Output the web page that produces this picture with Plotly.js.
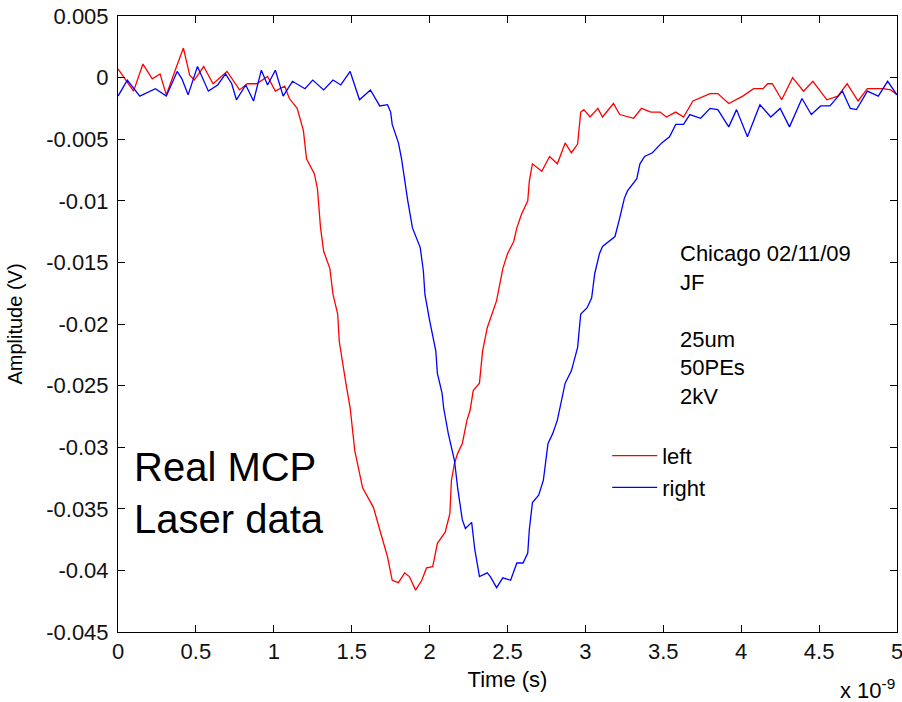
<!DOCTYPE html>
<html>
<head>
<meta charset="utf-8">
<script src="https://cdn.plot.ly/plotly-3.0.1.min.js"></script>
<style>html,body{margin:0;padding:0;background:#fff;}#chart{width:902px;height:702px;}</style>
</head>
<body>
<div id="chart"></div>
<script>
// Time in units of 1e-9 s
var leftTime = [0.00,0.10,0.16,0.22,0.27,0.31,0.37,0.42,0.46,0.49,0.55,0.61,0.70,0.78,0.83,0.89,0.96,1.01,1.07,1.10,1.15,1.19,1.21,1.26,1.28,1.30,1.32,1.36,1.38,1.41,1.42,1.44,1.46,1.49,1.52,1.57,1.64,1.68,1.73,1.76,1.80,1.84,1.87,1.91,1.95,1.98,2.02,2.05,2.10,2.13,2.14,2.16,2.18,2.21,2.24,2.26,2.28,2.32,2.34,2.37,2.40,2.43,2.47,2.50,2.54,2.56,2.59,2.63,2.64,2.66,2.72,2.77,2.82,2.87,2.91,2.95,2.97,2.99,3.03,3.08,3.11,3.18,3.22,3.31,3.36,3.42,3.48,3.52,3.58,3.63,3.69,3.80,3.85,3.92,4.01,4.08,4.14,4.17,4.20,4.26,4.33,4.40,4.46,4.55,4.62,4.68,4.75,4.81,4.86,4.91,4.96,5.00];
var leftAmp = [0.0007,-0.0011,0.0011,-0.0001,0.0003,-0.0014,0.0007,0.0024,0.0002,-0.0002,0.0009,-0.0005,0.0005,-0.0010,-0.0005,-0.0005,0.0001,-0.0011,-0.0007,-0.0017,-0.0025,-0.0043,-0.0066,-0.0078,-0.0090,-0.0122,-0.0141,-0.0155,-0.0176,-0.0192,-0.0214,-0.0232,-0.0246,-0.0268,-0.0303,-0.0333,-0.0349,-0.0367,-0.0389,-0.0408,-0.0410,-0.0402,-0.0405,-0.0416,-0.0408,-0.0398,-0.0397,-0.0378,-0.0369,-0.0354,-0.0327,-0.0313,-0.0305,-0.0297,-0.0278,-0.0270,-0.0254,-0.0248,-0.0222,-0.0203,-0.0192,-0.0181,-0.0155,-0.0143,-0.0133,-0.0122,-0.0111,-0.0100,-0.0084,-0.0070,-0.0076,-0.0064,-0.0070,-0.0053,-0.0061,-0.0054,-0.0028,-0.0026,-0.0032,-0.0025,-0.0032,-0.0021,-0.0030,-0.0033,-0.0025,-0.0028,-0.0028,-0.0032,-0.0028,-0.0032,-0.0019,-0.0013,-0.0013,-0.0021,-0.0015,-0.0009,-0.0009,-0.0005,-0.0005,-0.0018,0.0000,-0.0011,-0.0003,-0.0018,-0.0015,-0.0005,-0.0019,-0.0009,-0.0009,-0.0009,-0.0010,-0.0014];

var rightTime = [0.00,0.06,0.14,0.24,0.31,0.38,0.41,0.45,0.51,0.58,0.64,0.69,0.73,0.76,0.82,0.87,0.92,0.96,1.01,1.06,1.12,1.20,1.25,1.32,1.38,1.43,1.49,1.55,1.62,1.68,1.73,1.75,1.76,1.80,1.82,1.84,1.86,1.89,1.94,1.96,1.97,2.00,2.04,2.05,2.08,2.09,2.12,2.16,2.18,2.21,2.23,2.27,2.29,2.32,2.37,2.39,2.43,2.47,2.52,2.56,2.60,2.63,2.64,2.66,2.70,2.73,2.76,2.79,2.82,2.87,2.91,2.95,2.97,3.01,3.04,3.06,3.09,3.11,3.19,3.22,3.25,3.27,3.33,3.35,3.38,3.43,3.49,3.54,3.58,3.63,3.67,3.74,3.80,3.85,3.92,3.97,4.04,4.12,4.19,4.25,4.31,4.39,4.45,4.51,4.57,4.65,4.70,4.74,4.81,4.88,4.94,5.00];
var rightAmp = [-0.0015,-0.0002,-0.0015,-0.0009,-0.0015,0.0005,-0.0001,-0.0014,0.0009,-0.0011,-0.0006,0.0003,-0.0005,-0.0018,-0.0006,-0.0019,0.0006,-0.0006,0.0006,-0.0015,-0.0003,-0.0009,-0.0002,-0.0010,-0.0002,-0.0006,0.0005,-0.0018,-0.0010,-0.0023,-0.0022,-0.0028,-0.0038,-0.0053,-0.0066,-0.0084,-0.0100,-0.0122,-0.0138,-0.0157,-0.0176,-0.0197,-0.0222,-0.0240,-0.0256,-0.0268,-0.0289,-0.0311,-0.0333,-0.0359,-0.0366,-0.0361,-0.0383,-0.0405,-0.0402,-0.0405,-0.0414,-0.0406,-0.0408,-0.0394,-0.0394,-0.0386,-0.0367,-0.0345,-0.0339,-0.0327,-0.0297,-0.0289,-0.0278,-0.0248,-0.0238,-0.0219,-0.0192,-0.0187,-0.0179,-0.0159,-0.0143,-0.0137,-0.0129,-0.0114,-0.0098,-0.0092,-0.0082,-0.0070,-0.0064,-0.0061,-0.0053,-0.0048,-0.0038,-0.0038,-0.0030,-0.0033,-0.0025,-0.0026,-0.0040,-0.0026,-0.0048,-0.0022,-0.0032,-0.0025,-0.0040,-0.0017,-0.0030,-0.0023,-0.0023,-0.0011,-0.0025,-0.0026,-0.0011,-0.0015,-0.0003,-0.0014];

var xTickVals = [0,0.5,1,1.5,2,2.5,3,3.5,4,4.5,5];
var xTickText = ["0","0.5","1","1.5","2","2.5","3","3.5","4","4.5","5"];
var yTickVals = [0.005,0,-0.005,-0.01,-0.015,-0.02,-0.025,-0.03,-0.035,-0.04,-0.045];
var yTickText = ["0.005","0","-0.005","-0.01","-0.015","-0.02","-0.025","-0.03","-0.035","-0.04","-0.045"];
var infoLines = ["Chicago 02/11/09","JF","","25um","50PEs","2kV"];

var FONT = "Arial, 'Liberation Sans', sans-serif";

var traces = [
  {x: leftTime, y: leftAmp, name: "left", type: "scatter", mode: "lines", line: {color: "#ff0000", width: 1.3}},
  {x: rightTime, y: rightAmp, name: "right", type: "scatter", mode: "lines", line: {color: "#0000ff", width: 1.3}}
];

var axisCommon = {
  showline: true, linecolor: "#000", linewidth: 1, mirror: "ticks",
  ticks: "inside", ticklen: 7, tickcolor: "#000", tickwidth: 1,
  showgrid: false, zeroline: false, ticklabeloverflow: "allow",
  tickfont: {family: FONT, size: 22, color: "#111"}
};

var layout = {
  width: 902, height: 702,
  margin: {l: 118, r: 5, t: 16, b: 70},
  paper_bgcolor: "#fff", plot_bgcolor: "#fff",
  font: {family: FONT, color: "#000"},
  showlegend: true,
  legend: {x: 0.628, y: 0.32, xanchor: "left", yanchor: "top", bgcolor: "rgba(0,0,0,0)", borderwidth: 0,
           font: {family: FONT, size: 22, color: "#000"}, itemwidth: 45},
  xaxis: Object.assign({}, axisCommon, {range: [0, 5], tickmode: "array", tickvals: xTickVals, ticktext: xTickText,
    title: {text: "Time (s)", font: {family: FONT, size: 22, color: "#000"}, standoff: 8}}),
  yaxis: Object.assign({}, axisCommon, {range: [-0.045, 0.005], tickmode: "array", tickvals: yTickVals, ticktext: yTickText,
    ticklabelstandoff: 4,
    title: {text: "Amplitude (V)", font: {family: FONT, size: 20, color: "#000"}, standoff: 18}}),
  annotations: [
    {xref: "paper", yref: "paper", x: 0.719, y: 0.359, xanchor: "left", yanchor: "bottom", align: "left", showarrow: false,
     text: infoLines.join("<br>"), font: {family: FONT, size: 22, color: "#000"}},
    {xref: "paper", yref: "paper", x: 0.018, y: 0.144, xanchor: "left", yanchor: "bottom", align: "left", showarrow: false,
     text: "Real MCP<br>Laser data", font: {family: FONT, size: 40, color: "#000"}},
    {xref: "paper", yref: "paper", x: 1.0, y: -0.092, xanchor: "right", yanchor: "middle", showarrow: false,
     text: "x 10<sup>-9</sup>", font: {family: FONT, size: 22, color: "#000"}}
  ]
};

Plotly.newPlot("chart", traces, layout, {staticPlot: true, displayModeBar: false});
</script>
</body>
</html>
